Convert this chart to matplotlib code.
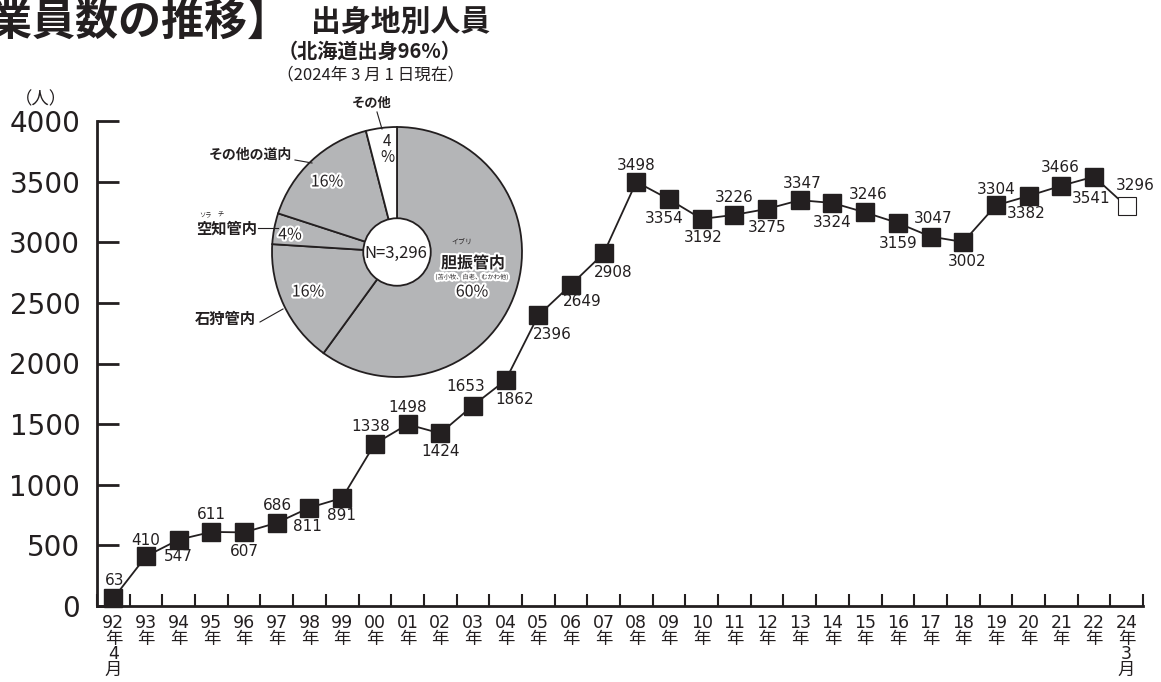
import numpy as np
import matplotlib
matplotlib.use("Agg")
import matplotlib.pyplot as plt
import matplotlib.patheffects as pe
from matplotlib.patches import Circle
from matplotlib.lines import Line2D

plt.rcParams['font.family'] = ['Noto Sans CJK JP', 'DejaVu Sans']

INK = '#231f20'
GRAY = '#b4b5b7'
W, H = 1161, 682

# Employee counts (line chart)
years = ['92', '93', '94', '95', '96', '97', '98', '99', '00', '01', '02', '03',
         '04', '05', '06', '07', '08', '09', '10', '11', '12', '13', '14', '15',
         '16', '17', '18', '19', '20', '21', '22', '24']
month_notes = {0: '4', 31: '3'}
employees = [63, 410, 547, 611, 607, 686, 811, 891, 1338, 1498, 1424, 1653,
             1862, 2396, 2649, 2908, 3498, 3354, 3192, 3226, 3275, 3347, 3324, 3246,
             3159, 3047, 3002, 3304, 3382, 3466, 3541, 3296]

# Origin breakdown (pie chart)
regions = ['胆振管内', '石狩管内', '空知管内', 'その他の道内', 'その他']
shares = [60, 16, 4, 16, 4]
total_n = 3296

# label offsets in pixels (dx, dy up) for each point's value label
label_offsets = [(1, 18), (0, 16), (0, -17), (0, 17), (0, -19), (1, 17), (-2, -19),
                 (-1, -18), (-4, 17), (0, 17), (0, -18), (-7, 19), (9, -19), (14, -19),
                 (11, -17), (10, -19), (0, 16), (-5, -19), (1, -19), (0, 17), (0, -19),
                 (2, 17), (0, -20), (3, 18), (0, -21), (3, 18), (4, -19), (0, 16),
                 (-2, -18), (-1, 18), (-3, -22), (9, 21)]


def fxy(px, py):
    # pixel position (from top-left) -> figure fraction
    return px / W, 1 - py / H


fig = plt.figure(figsize=(W / 100, H / 100), dpi=100)
fig.patch.set_facecolor('white')

# ---- line chart ----
ax = fig.add_axes([97 / W, 76 / H, 1046 / W, 485 / H])
x = np.arange(len(years))
ax.plot(x[:-1], employees[:-1], color=INK, lw=1.3, marker='s', markersize=12.5,
        markerfacecolor=INK, markeredgecolor=INK, clip_on=False, zorder=3)
ax.plot(x[-2:], employees[-2:], color=INK, lw=1.3, zorder=2, clip_on=False)
ax.plot(x[-1:], employees[-1:], ls='none', marker='s', markersize=12.5,
        markerfacecolor='white', markeredgecolor=INK, markeredgewidth=0.8,
        clip_on=False, zorder=3)

for xi, v, (dx, dy) in zip(x, employees, label_offsets):
    ax.annotate(str(v), (xi, v), xytext=(dx, dy), textcoords='offset pixels',
                ha='center', va='center', fontsize=11, color=INK,
                family=['DejaVu Sans'])

ax.set_xlim(-0.5, 31.5)
ax.set_ylim(0, 4000)
for s in ['top', 'right']:
    ax.spines[s].set_visible(False)
for s in ['left', 'bottom']:
    ax.spines[s].set_linewidth(2)
    ax.spines[s].set_color(INK)

ax.set_yticks(np.arange(0, 4001, 500))
ax.set_yticklabels([str(v) for v in range(0, 4001, 500)], family=['DejaVu Sans'])
ax.tick_params(axis='y', direction='in', length=16, width=2, pad=12,
               labelsize=20, colors=INK)

tick_labels = []
for i, y in enumerate(years):
    lab = y + '\n年'
    if i in month_notes:
        lab += '\n' + month_notes[i] + '\n月'
    tick_labels.append(lab)
ax.set_xticks(x)
ax.set_xticklabels(tick_labels, family=['DejaVu Sans', 'Noto Sans CJK JP'],
                   va='top', linespacing=0.82)
ax.tick_params(axis='x', which='major', length=0, pad=6, labelsize=12.5, colors=INK)
ax.set_xticks(np.arange(-0.5, 32, 1), minor=True)
ax.tick_params(axis='x', which='minor', direction='in', length=8.5, width=1.5,
               color=INK)

fig.text(*fxy(41, 99), '（人）', ha='center', va='center', fontsize=12.5, color=INK)

# ---- title ----
fig.text(*fxy(291, 22), '【従業員数の推移】', ha='right', va='center', fontsize=31,
         fontweight='bold', color=INK)

# ---- pie chart ----
cx, cy, R = 397, 252, 125
pie_ax = fig.add_axes([(cx - 1.1 * R) / W, (H - cy - 1.1 * R) / H, 2.2 * R / W, 2.2 * R / H])
pie_colors = [GRAY, GRAY, GRAY, GRAY, 'white']
pie_ax.pie(shares, colors=pie_colors, startangle=90, counterclock=False, radius=1,
           wedgeprops=dict(edgecolor=INK, linewidth=1.3))
pie_ax.add_patch(Circle((0, 0), 0.27, facecolor='white', edgecolor=INK, lw=1.3, zorder=5))
pie_ax.set_xlim(-1.1, 1.1)
pie_ax.set_ylim(-1.1, 1.1)
pie_ax.set_aspect('equal')
pie_ax.axis('off')

fig.text(*fxy(401, 22), '出身地別人員', ha='center', va='center', fontsize=21.5,
         fontweight='bold', color=INK)
fig.text(*fxy(370, 51), '（北海道出身96%）', ha='center', va='center', fontsize=14.5,
         fontweight='bold', color=INK)
fig.text(*fxy(371, 75), '（2024年 3 月 1 日現在）', ha='center', va='center',
         fontsize=12, color=INK)

halo = [pe.withStroke(linewidth=3, foreground='white')]
fig.text(*fxy(396, 253), 'N=' + format(total_n, ','), ha='center', va='center',
         fontsize=12, color=INK)
fig.text(*fxy(387, 142), '4', ha='center', va='center', fontsize=11, color=INK)
fig.text(*fxy(387, 158), '%', ha='center', va='center', fontsize=11, color=INK)
fig.text(*fxy(327, 182), f'{shares[3]}%', ha='center', va='center', fontsize=11.5,
         color=INK, path_effects=halo)
fig.text(*fxy(290, 235), f'{shares[2]}%', ha='center', va='center', fontsize=11.5,
         color=INK, path_effects=halo)
fig.text(*fxy(308, 292), f'{shares[1]}%', ha='center', va='center', fontsize=11.5,
         color=INK, path_effects=halo)
fig.text(*fxy(462, 242), 'イブリ', ha='center', va='center', fontsize=5, color=INK)
fig.text(*fxy(473, 263), regions[0], ha='center', va='center', fontsize=11.5,
         fontweight='bold', color=INK, path_effects=halo)
fig.text(*fxy(472, 277), '(苫小牧、白老、むかわ他)', ha='center', va='center',
         fontsize=4.5, color=INK, path_effects=halo)
fig.text(*fxy(472, 292), f'{shares[0]}%', ha='center', va='center', fontsize=11.5,
         color=INK, path_effects=halo)

# outside labels with leader lines
fig.text(*fxy(372, 103), regions[4], ha='center', va='center', fontsize=9.5,
         fontweight='bold', color=INK)
fig.text(*fxy(250, 155), regions[3], ha='center', va='center', fontsize=10,
         fontweight='bold', color=INK)
fig.text(*fxy(227, 229), regions[2], ha='center', va='center', fontsize=11,
         fontweight='bold', color=INK)
fig.text(*fxy(205, 215), 'ソラ', ha='center', va='center', fontsize=4.5, color=INK)
fig.text(*fxy(221, 215), 'チ', ha='center', va='center', fontsize=4.5, color=INK)
fig.text(*fxy(225, 319), regions[1], ha='center', va='center', fontsize=11,
         fontweight='bold', color=INK)

leaders = [((377, 112), (382, 129)), ((295, 160), (312, 163)),
           ((258, 228), (278, 228)), ((260, 322), (283, 309))]
for (x0, y0), (x1, y1) in leaders:
    p0, p1 = fxy(x0, y0), fxy(x1, y1)
    fig.add_artist(Line2D([p0[0], p1[0]], [p0[1], p1[1]], transform=fig.transFigure,
                          color=INK, lw=0.8))

fig.savefig('out.png', dpi=100, facecolor='white')
